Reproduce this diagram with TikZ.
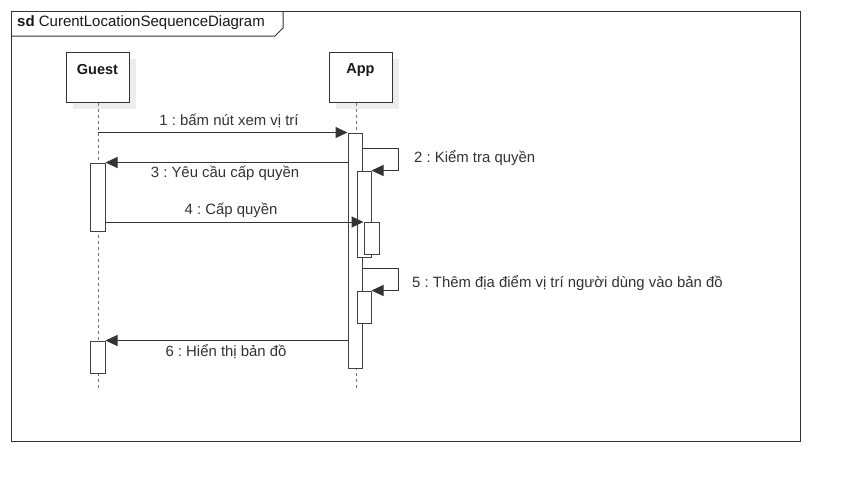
\documentclass[tikz,border=0pt]{standalone}
\usepackage{fontspec}
\setmainfont{Liberation Sans}
\usetikzlibrary{arrows.meta}
\frenchspacing
\begin{document}
\begin{tikzpicture}[x=1pt,y=-1pt,
 ln/.style={draw=black!80, line width=1pt},
 life/.style={draw=black!55, dash pattern=on 3pt off 3pt, line width=1pt},
 act/.style={draw=black!75, fill=white, line width=1pt, inner sep=0pt, minimum width=14pt},
 part/.style={draw=black!80, fill=white, line width=1pt, minimum width=63pt, minimum height=50pt, inner sep=0pt},
 shad/.style={fill=black!7, draw=none, minimum width=63pt, minimum height=50pt, inner sep=0pt},
 msg/.style={draw=black!80, line width=1pt, -{Triangle[length=12pt,width=11pt]}},
 lbl/.style={font=\fontsize{14.9}{17}\selectfont, text=black!80, inner sep=0pt},
 ptxt/.style={font=\fontsize{14.5}{17}\selectfont\bfseries, text=black!90, inner sep=0pt},
]
\useasboundingbox (0,0) rectangle (845,488);
\fill[white] (0,0) rectangle (845,488);
% frame
\draw[ln] (11,11) rectangle (800,441);
\draw[ln] (11,36) -- (275,36) -- (283,28) -- (283,11);
\node[anchor=west, inner sep=0pt, font=\fontsize{15}{17}\selectfont, text=black!90] (title) at (17,23) {\textbf{sd}\ CurentLocationSequenceDiagram};
% participants
\node[shad] (gs) at (104.5,84) {};
\node[shad] (as) at (367.5,84) {};
\node[part] (G) at (97.5,77) {};
\node[part] (A) at (360.5,77) {};
\node[ptxt] (Gt) at (97.5,70) {Guest};
\node[ptxt] (At) at (360.5,70) {App};
% lifelines
\coordinate (Gend) at (98,388);
\coordinate (Aend) at (356,388);
\draw[life] (G.south -| Gend) -- (Gend);
\draw[life] (A.south -| Aend) -- (Aend);
% activations
\node[act, minimum height=235pt] (A0) at (355,250.5) {};
\node[act, minimum height=86pt] (A1) at (364,214) {};
\node[act, minimum width=15pt, minimum height=32pt] (A2) at (371.5,238) {};
\node[act, minimum height=32pt] (A3) at (364,307) {};
\node[act, minimum width=15pt, minimum height=68pt] (G1) at (97.5,197) {};
\node[act, minimum width=15pt, minimum height=32pt] (G2) at (97.5,357) {};
% message levels
\coordinate (y2) at (398,148);
\coordinate (y5) at (398,268);
\coordinate (y4) at (0,222);
% messages
\draw[msg] (A0.north west -| Gend) -- (A0.north west);
\node[lbl] (l1) at (229,121) {1 : bấm nút xem vị trí};
\draw[msg] (A0.east |- y2) -- (y2) -- (y2 |- A1.north) -- (A1.north east);
\node[lbl, anchor=west] (l2) at (414,158) {2 : Kiểm tra quyền};
\draw[msg] (A0.west |- G1.north) -- (G1.north east);
\node[lbl] (l3) at (225,173) {3 : Yêu cầu cấp quyền};
\draw[msg] (G1.east |- y4) -- (A2.west |- y4);
\node[lbl] (l4) at (231,210) {4 : Cấp quyền};
\draw[msg] (A0.east |- y5) -- (y5) -- (y5 |- A3.north) -- (A3.north east);
\node[lbl, anchor=west] (l5) at (412,283) {5 : Thêm địa điểm vị trí người dùng vào bản đồ};
\draw[msg] (A0.west |- G2.north) -- (G2.north east);
\node[lbl] (l6) at (226,352) {6 : Hiển thị bản đồ};
\end{tikzpicture}
\end{document}
